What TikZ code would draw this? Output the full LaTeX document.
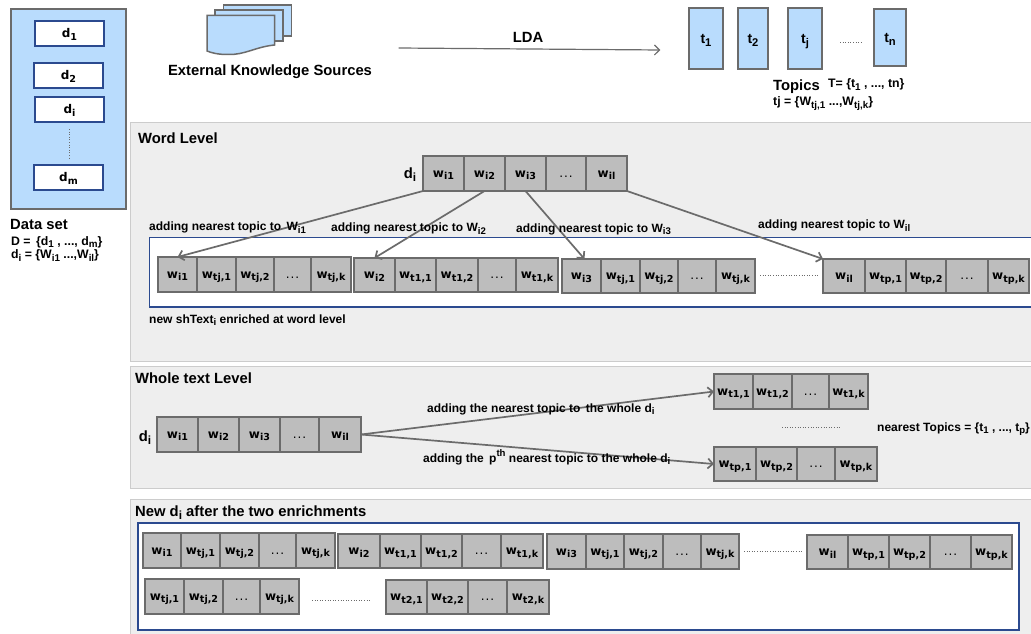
\documentclass[tikz,border=0pt]{standalone}
\usepackage{fontspec}
\setmainfont{Liberation Sans}
\newfontfamily\cellfont{DejaVu Sans}
\usetikzlibrary{arrows.meta}

\definecolor{boxgray}{HTML}{BDBDBD}
\definecolor{linegray}{HTML}{6B6B6B}
\definecolor{skyblue}{HTML}{B9DCFD}
\definecolor{navy}{HTML}{2B4A8F}
\definecolor{panelgray}{HTML}{EEEEEE}
\definecolor{panelline}{HTML}{CCCCCC}

\newcommand{\low}[1]{\raisebox{-0.22em}{\scalebox{0.8}{#1}}}
\newcommand{\wc}[1]{w\low{#1}}
\newcommand{\wdots}{\mdseries .\kern1pt.\kern1pt.}
\newcommand{\wordrow}[4]{%
  \foreach \xa/\xb/\lab [count=\n] in {#4} {
    \node (#1\n) at ({(\xa+\xb)/2},{(#2+#3)/2}) [wcell, minimum width={(\xb-\xa)*1pt}, minimum height={(#3-#2)*1pt}] {\lab};
  }%
}

\tikzset{
  wcell/.style={draw=linegray, fill=boxgray, line width=1.7pt, inner sep=0pt, outer sep=0pt, text height=7pt, text depth=0pt, font=\cellfont\bfseries\fontsize{12}{14}\selectfont},
  docbox/.style={draw=navy, fill=white, line width=1.5pt, inner sep=0pt, outer sep=0pt, text height=8.5pt, text depth=0pt, font=\cellfont\bfseries\fontsize{12}{14}\selectfont},
  topicbox/.style={draw=linegray, fill=skyblue, line width=1.7pt, inner sep=0pt, outer sep=0pt, text height=10pt, text depth=0pt, font=\bfseries\fontsize{14}{16}\selectfont},
  panel/.style={draw=panelline, fill=panelgray, line width=1pt},
  frame/.style={draw=navy, fill=white, line width=1.7pt},
  headtxt/.style={anchor=west, inner sep=0pt, text height=10.5pt, text depth=0.5pt, font=\bfseries\fontsize{14.8}{16}\selectfont},
  addtxt/.style={anchor=west, inner sep=0pt, text height=8.5pt, text depth=0.5pt, font=\bfseries\fontsize{12}{13}\selectfont},
  settxt/.style={anchor=west, inner sep=0pt, text height=8.5pt, text depth=0.5pt, font=\bfseries\fontsize{12.3}{13}\selectfont},
  link/.style={draw=linegray, line width=1.7pt, ->, >={Straight Barb[length=5pt,width=10pt]}},
  dots/.style={draw=linegray, line width=1pt, dash pattern=on 1pt off 1.6pt}
}

\begin{document}
\begin{tikzpicture}[x=1pt,y=-1pt]
  \useasboundingbox (0,0) rectangle (1031,634);

  %%% grey panels %%%
  \draw[panel] (130.5,122.5) rectangle (1034,361);
  \draw[panel] (130.5,366) rectangle (1034,488);
  \draw[panel] (130.5,499) rectangle (1034,636);
  \draw[frame] (149.5,237.5) rectangle (1036,307);
  \draw[frame] (138,523) rectangle (1019,630);

  %%% data set %%%
  \node (dataset) at (68.5,109) [draw=linegray, fill=skyblue, line width=1.7pt, minimum width=115pt, minimum height=200pt, inner sep=0pt, outer sep=0pt] {};
  \node (d1) at (69.5,33.5) [docbox, minimum width=69pt, minimum height=25pt] {d\low{1}};
  \node (d2) at (68.5,75.5) [docbox, minimum width=69pt, minimum height=25pt] {d\low{2}};
  \node (di) at (69.5,109.5) [docbox, minimum width=69pt, minimum height=25pt] {d\low{i}};
  \node (dm) at (68.5,177.5) [docbox, minimum width=69pt, minimum height=25pt] {d\low{m}};
  \coordinate (dotsA) at (69,129);
  \coordinate (dotsB) at (69,160);
  \draw[dots] (dotsA) -- (dotsB);
  \node (dslabel) at (10,224.5) [headtxt] {Data set};
  \node (dsD) at (11,241) [settxt] {D =\, \{d\low{1} , ..., d\low{m}\}};
  \node (dsW) at (11,254.5) [settxt] {d\low{i} = \{W\low{i1} ...,W\low{il}\}};

  %%% external sources %%%
  \draw[draw=linegray, fill=skyblue, line width=1.5pt] (223.5,5) rectangle (291.5,36);
  \draw[draw=linegray, fill=skyblue, line width=1.5pt] (215,10) rectangle (283,41);
  \draw[draw=linegray, fill=skyblue, line width=1.5pt] (207,15.5) -- (274.5,15.5) -- (274.5,45) .. controls (255,47) and (245,55) .. (228,54.5) .. controls (218,54.5) and (212,53) .. (207,51) -- cycle;
  \node (eks) at (270,71) [headtxt, anchor=center] {External Knowledge Sources};

  %%% topics %%%
  \node (ldastart) at (398,48) [inner sep=0pt] {};
  \node (ldaend) at (661,50) [inner sep=0pt] {};
  \draw[link, line width=1.2pt] (ldastart) -- (ldaend);
  \node (lda) at (528,38) [headtxt, anchor=center] {LDA};
  \node (t1) at (706,38.5) [topicbox, minimum width=34pt, minimum height=61pt] {t\low{1}};
  \node (t2) at (753,38.5) [topicbox, minimum width=30pt, minimum height=61pt] {t\low{2}};
  \node (tj) at (805,38.5) [topicbox, minimum width=34pt, minimum height=61pt] {t\low{j}};
  \node (tn) at (890,37.5) [topicbox, minimum width=32pt, minimum height=57pt] {t\low{n}};
  \coordinate (dotsC) at (840,43);
  \coordinate (dotsD) at (861,43);
  \draw[dots] (dotsC) -- (dotsD);
  \node (topics) at (773,85) [headtxt] {Topics};
  \node (topset) at (828,84) [settxt] {T= \{t\low{1} , ..., tn\}};
  \node (topword) at (773,102) [settxt] {tj = \{W\low{tj,1} ...,W\low{tj,k}\}};

  %%% word level %%%
  \node (wordhead) at (138,138) [headtxt] {Word Level};
  \node (dword) at (410,173) [headtxt, anchor=center] {d\low{i}};
  \wordrow{a}{156}{191}{423/464/\wc{i1},464/505/\wc{i2},505/546/\wc{i3},546/586/\wdots,586/627/\wc{il}}
  \wordrow{b}{257}{292}{158/197/\wc{i1},197/236/\wc{tj,1},236/274/\wc{tj,2},274/311/\wdots,311/351/\wc{tj,k}}
  \wordrow{c}{258}{292}{354/395/\wc{i2},395/436/\wc{t1,1},436/478/\wc{t1,2},478/516/\wdots,516/558/\wc{t1,k}}
  \wordrow{e}{259}{293}{562/601/\wc{i3},601/640/\wc{tj,1},640/678/\wc{tj,2},678/716/\wdots,716/755/\wc{tj,k}}
  \wordrow{f}{259}{293}{823/865/\wc{il},865/906/\wc{tp,1},906/946/\wc{tp,2},946/988/\wdots,988/1029/\wc{tp,k}}
  \coordinate (dotsE) at (760,275);
  \coordinate (dotsF) at (818,275);
  \draw[dots] (dotsE) -- (dotsF);

  \draw[link] (a1.south west) -- (b1.north);
  \draw[link] (a2.south) -- (c1.north);
  \draw[link] (a3.south) -- (e1.80);
  \draw[link] (a5.south east) -- (f1.north west);

  \node (addA) at (149,226.5) [addtxt] {adding nearest topic to\, W\low{i1}};
  \node (addB) at (331,227.5) [addtxt] {adding nearest topic to W\low{i2}};
  \node (addC) at (516,228) [addtxt] {adding nearest topic to W\low{i3}};
  \node (addD) at (758,224.5) [addtxt] {adding nearest topic to W\low{il}};
  \node (newtxt) at (149,319) [addtxt] {new shText\low{i} enriched at word level};

  %%% whole text level %%%
  \node (wholehead) at (135,378) [headtxt] {Whole text Level};
  \node (dwhole) at (145,436) [headtxt, anchor=center] {d\low{i}};
  \wordrow{g}{417}{452}{157/198/\wc{i1},198/239/\wc{i2},239/280/\wc{i3},280/319/\wdots,319/361/\wc{il}}
  \wordrow{h}{374}{409}{714/753/\wc{t1,1},753/792/\wc{t1,2},792/829/\wdots,829/868/\wc{t1,k}}
  \wordrow{k}{447}{481}{714/756/\wc{tp,1},756/797/\wc{tp,2},797/835/\wdots,835/877/\wc{tp,k}}
  \coordinate (dotsG) at (782,427);
  \coordinate (dotsH) at (840,427);
  \draw[dots] (dotsG) -- (dotsH);

  \draw[link] (g5.east) -- (h1.west);
  \draw[link] (g5.east) -- (k1.west);

  \node (addE) at (427,408) [addtxt] {adding the nearest topic to\, the whole d\low{i}};
  \node (addF) at (423,458) [addtxt] {adding the\, p\raisebox{0.45em}{\scalebox{0.8}{th}} nearest topic to the whole d\low{i}};
  \node (neartop) at (877,427) [addtxt] {nearest Topics = \{t\low{1} , ..., t\low{p}\}};

  %%% after both enrichments %%%
  \node (newhead) at (135,511) [headtxt] {New d\low{i} after the two enrichments};
  \wordrow{m}{533}{568}{143/181/\wc{i1},181/220/\wc{tj,1},220/259/\wc{tj,2},259/296/\wdots,296/335/\wc{tj,k}}
  \wordrow{p}{534}{568}{338/380/\wc{i2},380/421/\wc{t1,1},421/462/\wc{t1,2},462/501/\wdots,501/543/\wc{t1,k}}
  \wordrow{q}{534}{569}{547/586/\wc{i3},586/624/\wc{tj,1},624/663/\wc{tj,2},663/701/\wdots,701/739/\wc{tj,k}}
  \wordrow{r}{535}{569}{807/848/\wc{il},848/889/\wc{tp,1},889/930/\wc{tp,2},930/971/\wdots,971/1012/\wc{tp,k}}
  \wordrow{s}{579}{614}{145/184/\wc{tj,1},184/223/\wc{tj,2},223/260/\wdots,260/299/\wc{tj,k}}
  \wordrow{u}{580}{614}{386/427/\wc{t2,1},427/468/\wc{t2,2},468/507/\wdots,507/549/\wc{t2,k}}
  \coordinate (dotsI) at (744,551);
  \coordinate (dotsJ) at (802,551);
  \draw[dots] (dotsI) -- (dotsJ);
  \coordinate (dotsK) at (312,600);
  \coordinate (dotsL) at (371,600);
  \draw[dots] (dotsK) -- (dotsL);

\end{tikzpicture}
\end{document}
